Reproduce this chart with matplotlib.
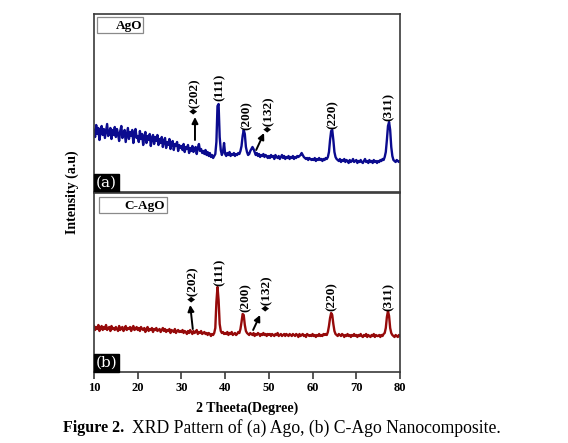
import numpy as np
import matplotlib
matplotlib.use("Agg")
import matplotlib.pyplot as plt
from matplotlib.patches import Rectangle

plt.rcParams['font.family'] = ['Liberation Serif', 'DejaVu Serif']

# ---------------- data ----------------
ago_intensity = [
    62,55,67,58,64,52,60,66,57,63,54,61,68,56,59,64,53,62,57,65,
    55,63,58,51,61,66,54,59,62,50,57,64,53,60,56,62,49,58,63,54,
    56,50,61,53,58,47,55,60,49,56,52,58,46,54,57,48,55,51,57,47,
    53,49,55,45,51,54,44,50,47,53,43,49,51,42,48,46,50,41,47,44,
    46,42,48,40,45,43,47,39,44,41,46,40,43,45,38,44,48,41,43,39,
    41,38,42,37,40,36,39,35,37,34,36,38,
    50,86,88,55,
    42,37,40,49,38,36,39,37,40,36,38,37,39,36,38,37,39,38,41,46,
    56,62,58,45,
    40,37,38,41,43,45,43,40,37,39,36,38,35,37,36,38,35,37,36,34,
    36,34,37,35,36,33,37,35,34,36,33,35,37,34,36,33,35,34,36,33,
    35,34,36,33,35,34,36,35,36,37,39,37,35,34,33,34,32,34,33,32,
    33,32,34,31,33,32,34,32,33,31,33,32,34,33,35,40,52,61,62,52,
    40,35,33,32,31,33,30,32,31,33,30,32,31,29,32,30,31,33,30,31,
    32,29,31,30,32,30,29,31,33,30,31,29,32,30,31,29,32,30,31,29,
    31,30,32,31,33,32,35,40,52,66,70,62,45,36,32,31,30,32,31,30,31,
]

cago_intensity = [
    46,42,45,43,47,41,44,46,42,45,43,47,42,44,45,41,46,43,44,42,
    45,43,41,46,42,44,45,41,43,46,42,44,43,45,41,44,46,42,43,45,
    42,44,41,45,43,42,44,40,43,45,41,43,42,44,40,43,42,44,41,42,
    43,40,42,44,41,43,40,42,41,43,39,42,41,40,43,39,41,42,40,41,
    40,42,39,41,40,38,41,39,42,40,38,41,39,40,42,38,40,39,41,38,
    39,40,38,39,37,39,38,36,38,37,39,44,
    70,85,72,48,
    41,39,40,38,
    39,38,40,37,39,38,40,37,38,39,37,38,40,39,43,50,
    58,57,47,41,
    39,38,37,39,38,37,39,36,38,37,39,38,36,38,37,39,37,38,36,38,
    37,38,36,38,37,36,38,37,39,36,37,38,36,37,38,36,38,37,36,38,
    37,36,38,37,36,38,37,35,38,36,37,38,36,37,35,38,37,36,37,36,
    38,36,37,35,37,36,38,36,37,36,38,37,38,37,40,46,
    54,59,57,48,
    41,38,37,36,38,37,36,38,37,35,37,36,38,36,37,35,37,36,38,36,
    37,35,37,36,38,36,35,37,36,38,35,37,36,35,37,36,38,35,37,36,
    36,37,35,37,36,38,39,44,
    55,61,56,44,
    39,37,36,35,37,36,35,37,36,
]

two_theta_ago = np.linspace(10, 80, len(ago_intensity))
two_theta_cago = np.linspace(10, 80, len(cago_intensity))

series_labels = ['AgO', 'C-AgO']
panel_tags = ['(a)', '(b)']
x_ticks = [10, 20, 30, 40, 50, 60, 70, 80]

# peak labels: (text, x, y, va)
ago_peaks = [('\u2666(202)', 33.1, 78, 'bottom'), ('(111)', 38.8, 105, 'center'),
             ('(200)', 45.0, 76, 'center'), ('\u2666(132)', 50.0, 60, 'bottom'),
             ('(220)', 64.7, 77, 'center'), ('(311)', 77.5, 85, 'center')]
cago_peaks = [('\u2666(202)', 32.7, 70, 'bottom'), ('(111)', 38.8, 100, 'center'),
              ('(200)', 44.8, 74, 'center'), ('\u2666(132)', 49.6, 61, 'bottom'),
              ('(220)', 64.4, 75, 'center'), ('(311)', 77.3, 75, 'center')]
ago_arrows = [((33.1, 52), (33.1, 75)), ((47.1, 42), (48.9, 59))]
cago_arrows = [((32.6, 43), (32.0, 67)), ((46.4, 42), (48.0, 57))]

# ---------------- figure ----------------
fig = plt.figure(figsize=(5.68, 4.43), dpi=100)
left, width = 94 / 568, 306 / 568
ax_top = fig.add_axes([left, 1 - 192 / 443, width, 178 / 443])
ax_bot = fig.add_axes([left, 1 - 372 / 443, width, 179 / 443])

# legend box geometry (axes fraction): x0, y0, w, h, text_right, text_y
legend_boxes = [(0.0098, 0.893, 0.150, 0.090, 0.157, 0.930),
                (0.016, 0.888, 0.222, 0.090, 0.232, 0.926)]

configs = [
    (ax_top, two_theta_ago, ago_intensity, '#0b0b8f', ago_peaks, ago_arrows, series_labels[0], panel_tags[0], 178, legend_boxes[0]),
    (ax_bot, two_theta_cago, cago_intensity, '#960a0a', cago_peaks, cago_arrows, series_labels[1], panel_tags[1], 179, legend_boxes[1]),
]

for ax, xs, ys, col, peaks, arrows, lab, tag, ymax, lb in configs:
    ax.plot(xs, ys, color=col, lw=1.7)
    ax.set_xlim(10, 80)
    ax.set_ylim(0, ymax)
    ax.set_yticks([])
    for sp in ax.spines.values():
        sp.set_color('#3a3a3a')
        sp.set_linewidth(1.2)
    for txt, x, y, va in peaks:
        ax.text(x, y, txt, rotation=90, ha='center', va=va, fontsize=9.5,
                fontweight='bold', family=['Liberation Serif', 'DejaVu Sans'])
    for (x0, y0), (x1, y1) in arrows:
        ax.annotate('', xy=(x1, y1), xytext=(x0, y0),
                    arrowprops=dict(arrowstyle='-|>', color='black', lw=1.4,
                                    mutation_scale=9, shrinkA=0, shrinkB=0))
    x0, y0, w, h, tr, ty = lb
    ax.add_patch(Rectangle((x0, y0), w, h, transform=ax.transAxes, fill=True,
                           fc='white', ec='#8a8a8a', lw=0.9, zorder=5))
    ax.text(tr, ty, lab, transform=ax.transAxes, ha='right', va='center',
            fontsize=9.5, fontweight='bold', zorder=6)
    ax.text(0.006, 0.012, tag, transform=ax.transAxes, ha='left', va='bottom',
            color='white', fontsize=11, family='DejaVu Serif',
            bbox=dict(boxstyle='square,pad=0.12', fc='black', ec='black'))

ax_top.set_xticks([])
ax_bot.set_xticks(x_ticks)
ax_bot.set_xticklabels([str(t) for t in x_ticks], fontweight='bold', fontsize=9)
ax_bot.tick_params(axis='x', direction='out', length=5, width=1.2, color='#3a3a3a', pad=2)

fig.text(247 / 568, 1 - 408 / 443, '2 Theeta(Degree)', ha='center', va='center',
         fontsize=10, fontweight='bold')
fig.text(72 / 568, 1 - 192 / 443, 'Intensity (a.u)', ha='center', va='center',
         rotation=90, fontsize=10, fontweight='bold')
fig.text(63 / 568, 1 - 428 / 443, 'Figure 2.', ha='left', va='center',
         fontsize=11.5, fontweight='bold')
fig.text(132 / 568, 1 - 428 / 443, 'XRD Pattern of (a) Ago, (b) C-Ago Nanocomposite.',
         ha='left', va='center', fontsize=12.7)

fig.savefig('out.png', dpi=100)
